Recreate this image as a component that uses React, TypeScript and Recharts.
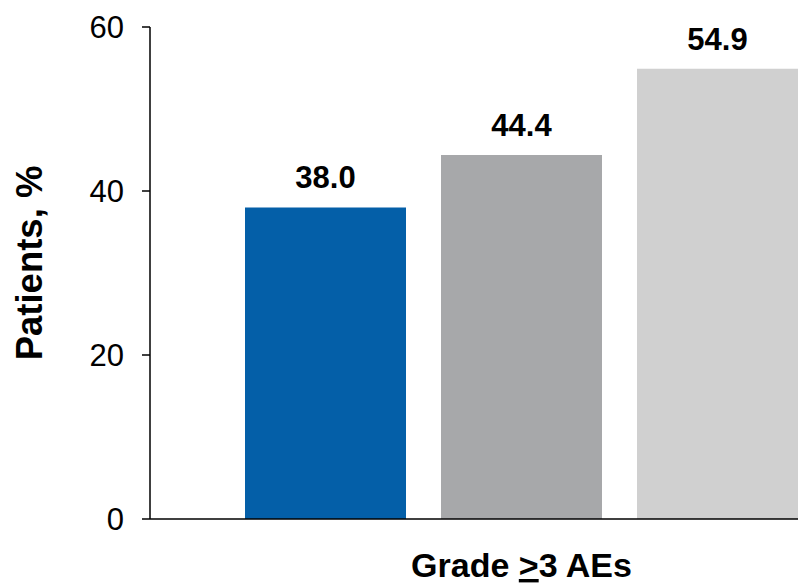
import { BarChart, Bar, XAxis, YAxis, LabelList, Label } from "recharts"

const CATEGORIES = ["Grade >3 AEs"]
const SERIES_KEYS = ["arm1", "arm2", "arm3"]
const SERIES_VALUES = [38.0, 44.4, 54.9]
const SERIES_COLORS = ["#045FA8", "#A7A8AA", "#D0D0D0"]
const Y_TICKS = [0, 20, 40, 60]

const FONT = "Arial, 'Liberation Sans', Helvetica, sans-serif"

const data = CATEGORIES.map((name) => {
  const row: Record<string, string | number> = { name }
  SERIES_KEYS.forEach((k, i) => {
    row[k] = SERIES_VALUES[i]
  })
  return row
})

function CategoryTick({ x, y }: any) {
  return (
    <text x={x} y={y + 50} textAnchor="middle" fontFamily={FONT} fontSize={34} fontWeight="bold" fill="#000">
      <tspan>Grade </tspan>
      <tspan style={{ textDecoration: "underline" }}>&gt;</tspan>
      <tspan>3 AEs</tspan>
    </text>
  )
}

export default function App() {
  return (
    <div>
      <style>{"body{margin:0;background:#fff}"}</style>
      <BarChart
        width={798}
        height={584}
        data={data}
        margin={{ top: 27, right: 0, bottom: 0, left: 0 }}
        barCategoryGap={0}
        barGap={35}
      >
        <XAxis
          dataKey="name"
          height={65}
          padding={{ left: 95, right: 0 }}
          axisLine={{ stroke: "#000", strokeWidth: 1.5 }}
          tickLine={false}
          tick={<CategoryTick />}
        />
        <YAxis
          width={150}
          domain={[0, 60]}
          ticks={Y_TICKS}
          axisLine={{ stroke: "#000", strokeWidth: 1.5 }}
          tickLine={{ stroke: "#000", strokeWidth: 1.5 }}
          tickSize={8}
          tickMargin={18}
          tick={{ fill: "#000", fontSize: 31, fontFamily: FONT }}
        >
          <Label
            content={() => (
              <text
                x={29}
                y={263}
                transform="rotate(-90, 29, 263)"
                textAnchor="middle"
                dominantBaseline="central"
                fontFamily={FONT}
                fontSize={36.5}
                fontWeight="bold"
                fill="#000"
              >
                Patients, %
              </text>
            )}
          />
        </YAxis>
        {SERIES_KEYS.map((k, i) => (
          <Bar key={k} dataKey={k} fill={SERIES_COLORS[i]} isAnimationActive={false}>
            <LabelList
              dataKey={k}
              position="top"
              offset={19}
              formatter={(v: any) => Number(v).toFixed(1)}
              style={{ fill: "#000", fontSize: 31, fontWeight: "bold", fontFamily: FONT }}
            />
          </Bar>
        ))}
      </BarChart>
    </div>
  )
}
